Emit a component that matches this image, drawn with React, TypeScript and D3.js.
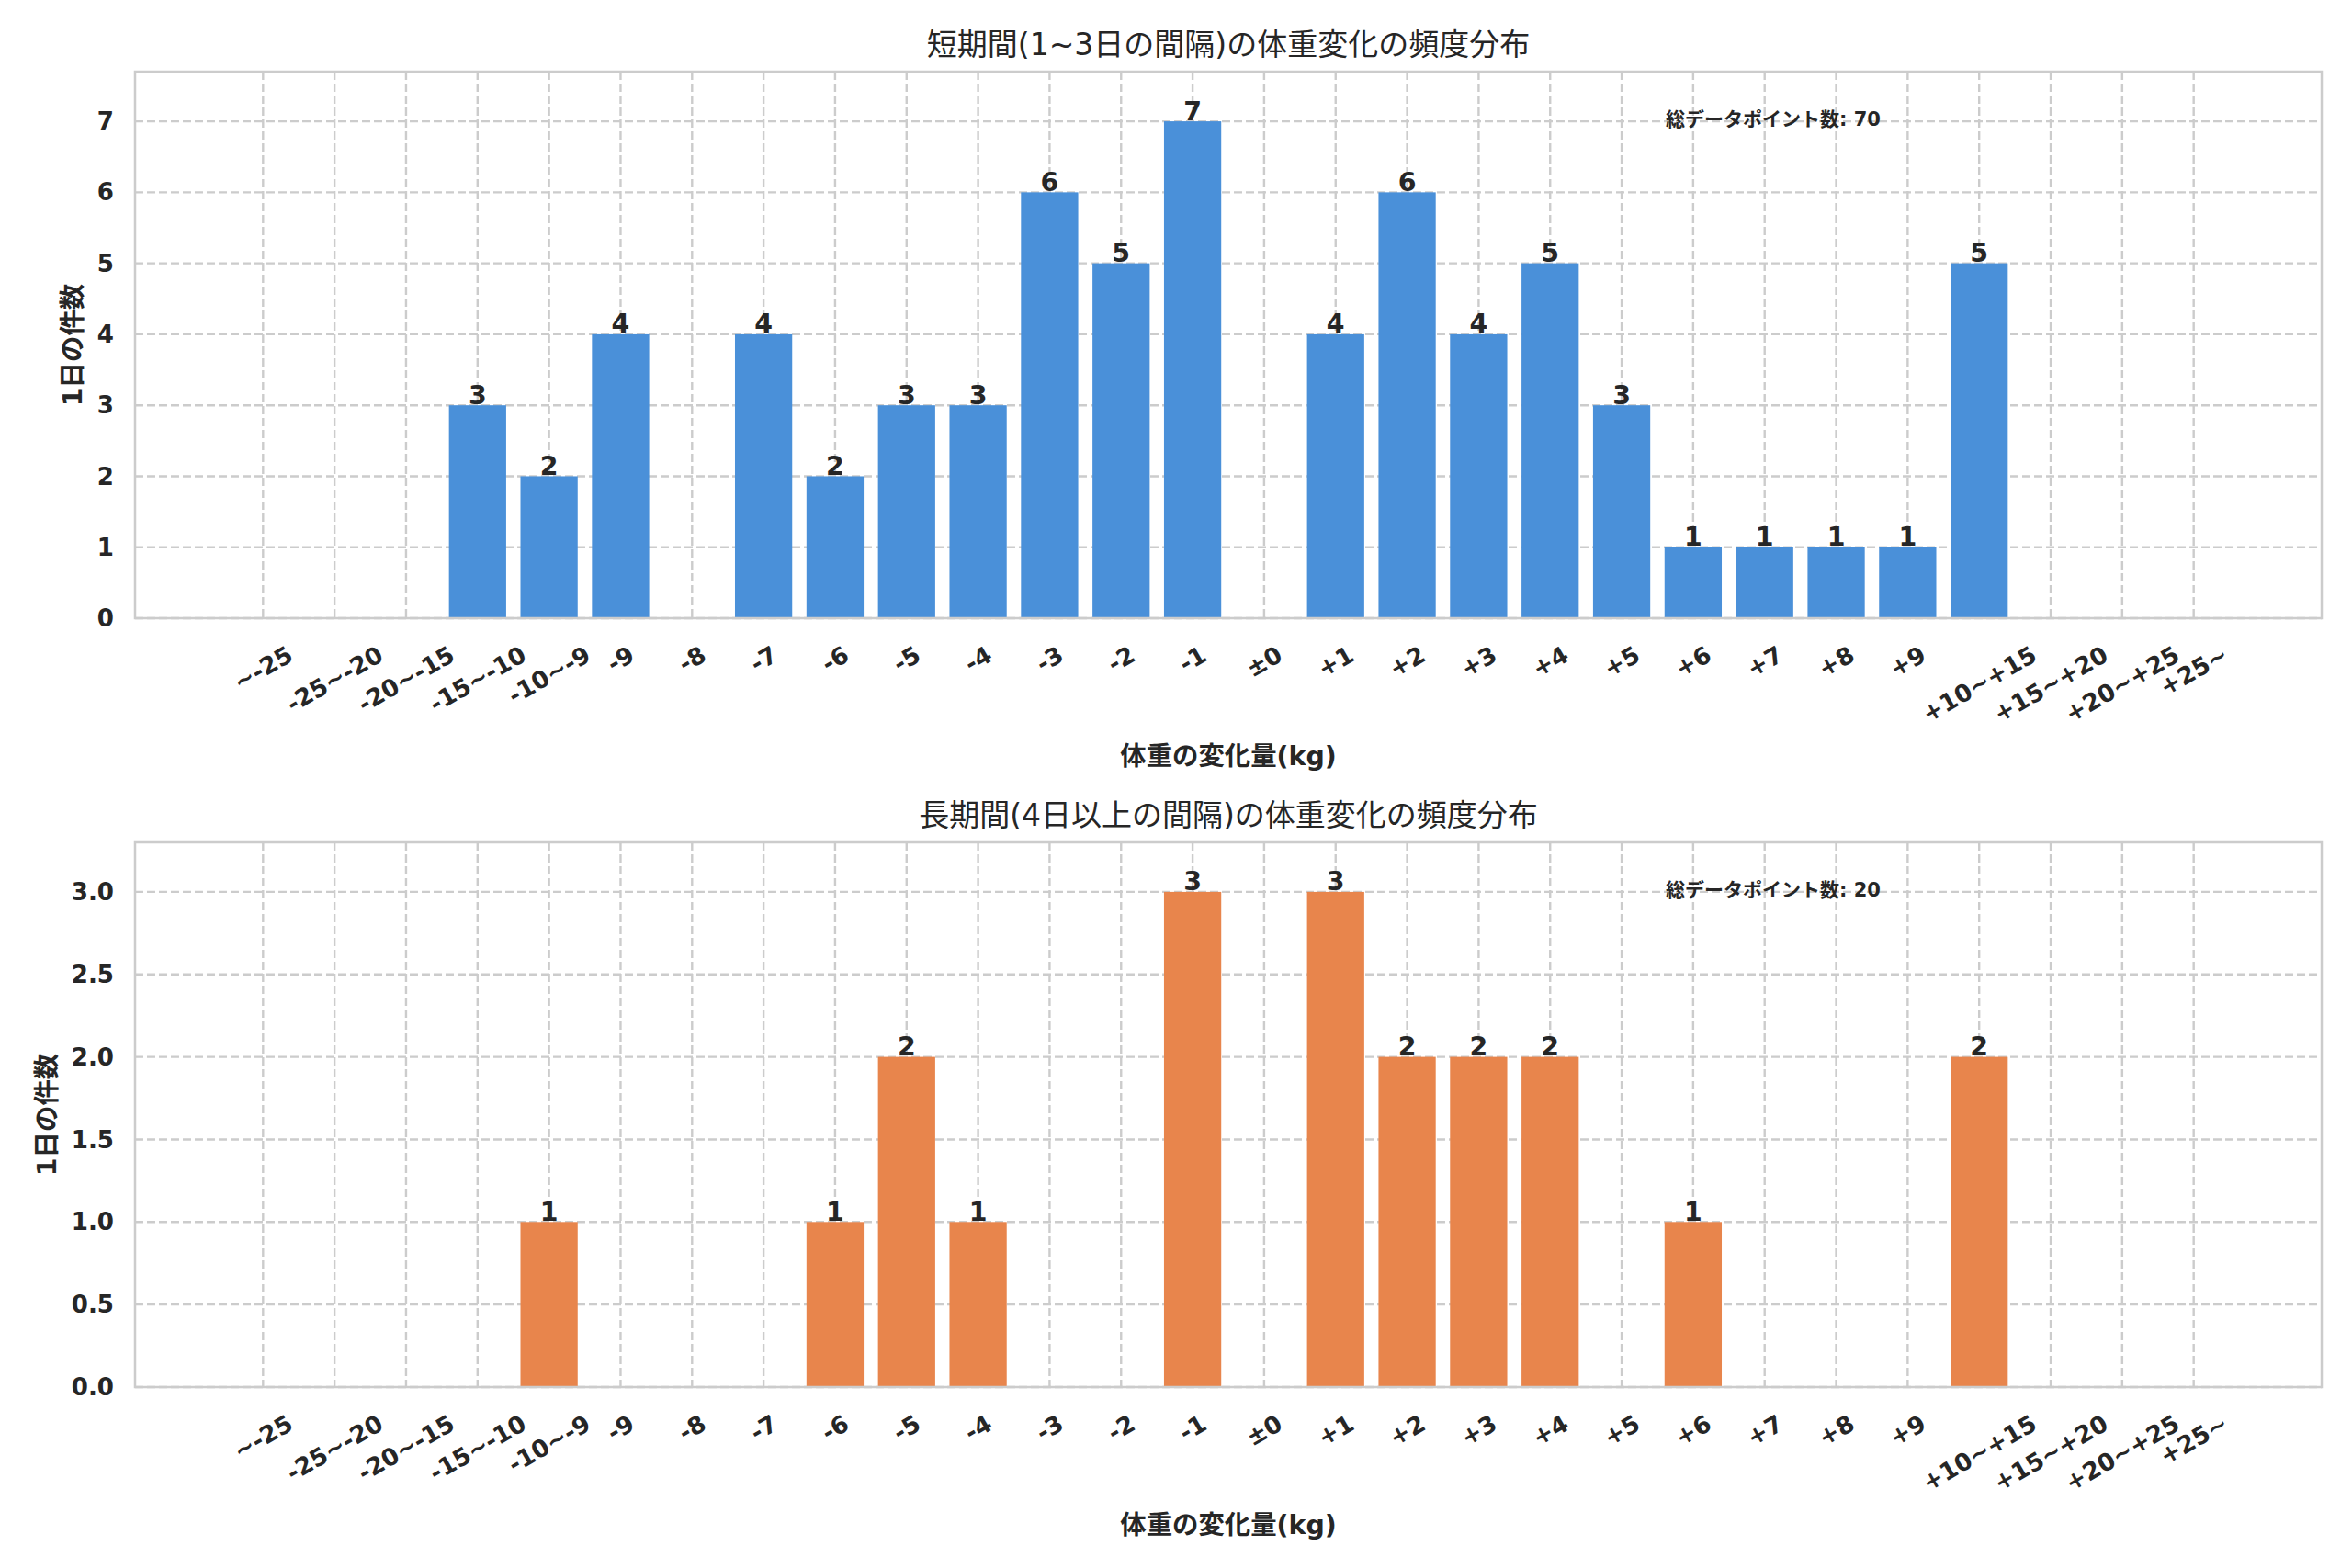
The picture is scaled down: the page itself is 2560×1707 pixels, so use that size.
import React, { useEffect } from 'react';
import * as d3 from 'd3';

const CATEGORIES = [
  '~-25', '-25~-20', '-20~-15', '-15~-10', '-10~-9',
  '-9', '-8', '-7', '-6', '-5', '-4', '-3', '-2', '-1',
  '±0',
  '+1', '+2', '+3', '+4', '+5', '+6', '+7', '+8', '+9',
  '+10~+15', '+15~+20', '+20~+25', '+25~',
];

const SHORT_COUNTS = [0, 0, 0, 3, 2, 4, 0, 4, 2, 3, 3, 6, 5, 7, 0, 4, 6, 4, 5, 3, 1, 1, 1, 1, 5, 0, 0, 0];
const LONG_COUNTS = [0, 0, 0, 0, 1, 0, 0, 0, 1, 2, 1, 0, 0, 3, 0, 3, 2, 2, 2, 0, 1, 0, 0, 0, 2, 0, 0, 0];

const SHORT_Y_TICKS = [0, 1, 2, 3, 4, 5, 6, 7];
const LONG_Y_TICKS = [0, 0.5, 1, 1.5, 2, 2.5, 3];

const SHORT_TITLE = '短期間(1~3日の間隔)の体重変化の頻度分布';
const LONG_TITLE = '長期間(4日以上の間隔)の体重変化の頻度分布';
const X_LABEL = '体重の変化量(kg)';
const Y_LABEL = '1日の件数';
const TOTAL_LABEL = '総データポイント数';

const W = 2560;
const H = 1707;
const LEFT = 147;
const RIGHT = 2527;
const FONT = "'DejaVu Sans', 'Noto Sans CJK JP', sans-serif";
const INK = '#262626';
const GRID = '#cccccc';

const ctx = document.createElement('canvas').getContext('2d')!;
function textWidth(s: string, font: string) {
  ctx.font = font;
  return ctx.measureText(s).width;
}

interface PanelProps {
  top: number;
  bottom: number;
  counts: number[];
  color: string;
  yTicks: number[];
  yFormat: (v: number) => string;
  title: string;
}

function Panel({ top, bottom, counts, color, yTicks, yFormat, title }: PanelProps) {
  const n = CATEGORIES.length;
  const span = n - 1 + 0.8;
  const pad = 0.05 * span;
  const x = d3.scaleLinear().domain([-0.4 - pad, n - 1 + 0.4 + pad]).range([LEFT, RIGHT]);
  const yMax = d3.max(counts)! * 1.1;
  const y = d3.scaleLinear().domain([0, yMax]).range([bottom, top]);
  const barW = x(0.8) - x(0);
  const total = d3.sum(counts);

  const tickSize = 26.1;
  const tickFont = `bold ${tickSize}px ${FONT}`;
  const lineH = 1.164 * tickSize;
  const sin = Math.sin(Math.PI / 6);
  const cos = Math.cos(Math.PI / 6);

  const maxYTickW = d3.max(yTicks, t => textWidth(yFormat(t), tickFont))!;
  const yLabelX = LEFT - 23 - maxYTickW - 26.5;

  return (
    <g>
      {/* grid */}
      {yTicks.map(t => (
        <line key={'gy' + t} x1={LEFT} x2={RIGHT} y1={y(t)} y2={y(t)}
          stroke={GRID} strokeWidth={2.4} strokeDasharray="9,4" />
      ))}
      {CATEGORIES.map((c, i) => (
        <line key={'gx' + c} x1={x(i)} x2={x(i)} y1={top} y2={bottom}
          stroke={GRID} strokeWidth={2.4} strokeDasharray="9,4" />
      ))}

      {/* bars */}
      {counts.map((v, i) => (
        <rect key={'b' + i} x={x(i) - barW / 2} y={y(v)} width={barW} height={y(0) - y(v)} fill={color} />
      ))}

      {/* bar labels */}
      {counts.map((v, i) => v > 0 ? (
        <text key={'l' + i} x={x(i)} y={y(v) - 1.5} textAnchor="middle"
          fontFamily={FONT} fontWeight="bold" fontSize={28.4} fill={INK}>{v}</text>
      ) : null)}

      {/* frame */}
      <rect x={LEFT} y={top} width={RIGHT - LEFT} height={bottom - top}
        fill="none" stroke={GRID} strokeWidth={2.5} />

      {/* y ticks */}
      {yTicks.map(t => (
        <text key={'yt' + t} x={LEFT - 23} y={y(t)} dy="0.35em" textAnchor="end"
          fontFamily={FONT} fontWeight="bold" fontSize={tickSize} fill={INK}>{yFormat(t)}</text>
      ))}

      {/* x ticks, rotated 30deg, centred */}
      {CATEGORIES.map((c, i) => {
        const w = textWidth(c, tickFont);
        const hr = w * sin + lineH * cos;
        const cy = bottom + 24 + hr / 2;
        return (
          <text key={'xt' + c} transform={`translate(${x(i)},${cy}) rotate(-30)`}
            dy="0.35em" textAnchor="middle"
            fontFamily={FONT} fontWeight="bold" fontSize={tickSize} fill={INK}>{c}</text>
        );
      })}

      {/* labels */}
      <text x={(LEFT + RIGHT) / 2} y={top - 18} textAnchor="middle"
        fontFamily={FONT} fontSize={33} fill={INK}>{title}</text>
      <text x={(LEFT + RIGHT) / 2} y={bottom + 160} textAnchor="middle"
        fontFamily={FONT} fontWeight="bold" fontSize={28.4} fill={INK}>{X_LABEL}</text>
      <text transform={`translate(${yLabelX},${(top + bottom) / 2}) rotate(-90)`}
        dy="0.35em" textAnchor="middle"
        fontFamily={FONT} fontWeight="bold" fontSize={28.4} fill={INK}>{Y_LABEL}</text>

      {/* total annotation */}
      <text x={LEFT + 0.7 * (RIGHT - LEFT)} y={top + 59}
        fontFamily={FONT} fontWeight="bold" fontSize={21} fill={INK}>{`${TOTAL_LABEL}: ${total}`}</text>
    </g>
  );
}

export default function App() {
  useEffect(() => {
    document.body.style.margin = '0';
  }, []);

  return (
    <svg width={W} height={H} viewBox={`0 0 ${W} ${H}`} style={{ display: 'block', background: '#fff' }}>
      <rect width={W} height={H} fill="#fff" />
      <Panel top={78} bottom={673} counts={SHORT_COUNTS} color="#4a90d9"
        yTicks={SHORT_Y_TICKS} yFormat={v => String(v)} title={SHORT_TITLE} />
      <Panel top={917} bottom={1510} counts={LONG_COUNTS} color="#e8854c"
        yTicks={LONG_Y_TICKS} yFormat={v => v.toFixed(1)} title={LONG_TITLE} />
    </svg>
  );
}
